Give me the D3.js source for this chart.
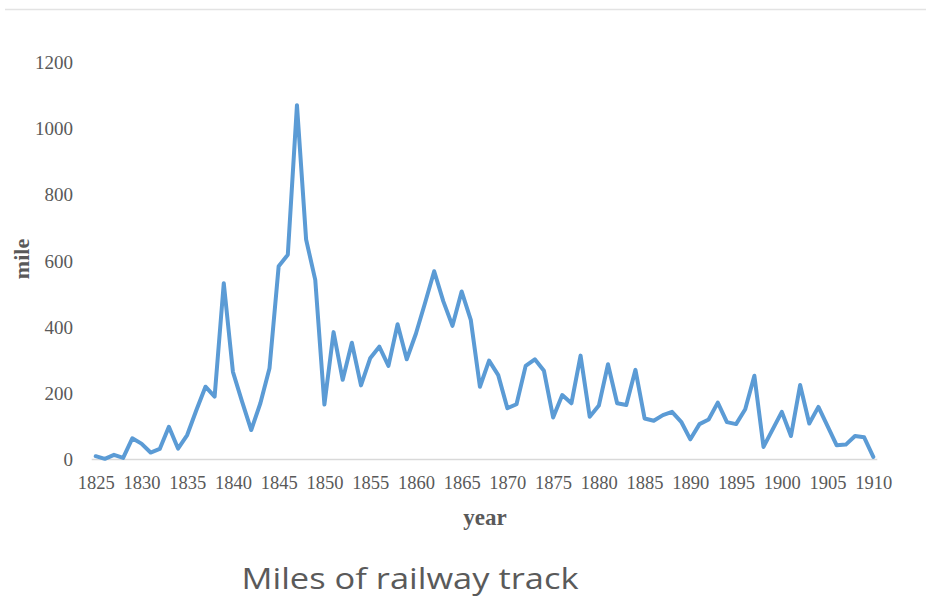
<!DOCTYPE html>
<html>
<head>
<meta charset="utf-8">
<script src="https://cdn.jsdelivr.net/npm/d3@7"></script>
<style>
  html, body { margin: 0; padding: 0; background: #ffffff; }
  svg { display: block; }
</style>
</head>
<body>
<svg id="chart" width="926" height="601"></svg>
<script>
const years = d3.range(1825, 1911);
const miles = [
  10, 2, 14, 5, 64, 48, 21, 32, 99, 33,
  74, 149, 220, 190, 533, 265, 175, 89, 170, 276,
  584, 619, 1071, 665, 543, 166, 385, 241, 353, 224,
  306, 341, 283, 409, 303, 380, 473, 569, 478, 404,
  508, 422, 220, 299, 255, 155, 167, 283, 303, 268,
  127, 195, 170, 314, 129, 163, 288, 170, 165, 271,
  124, 117, 134, 144, 114, 61, 107, 121, 172, 113,
  107, 152, 253, 38, 91, 144, 71, 225, 109, 159,
  101, 43, 45, 71, 67, 8
];
const xTicks = d3.range(1825, 1911, 5);
const yTicks = [0, 200, 400, 600, 800, 1000, 1200];
const xTitle = "year";
const yTitle = "mile";
const chartTitle = "Miles of railway track";

const svg = d3.select("#chart");
const textColor = "#595959";

// top border line
svg.append("line")
  .attr("x1", 5).attr("x2", 926)
  .attr("y1", 9.5).attr("y2", 9.5)
  .attr("stroke", "#e3e3e3").attr("stroke-width", 1.5);

const x = d3.scaleLinear().domain([1825, 1910]).range([95.7, 873.3]);
const y = d3.scaleLinear().domain([0, 1200]).range([459.5, 62.5]);

// baseline
svg.append("line")
  .attr("x1", x(1825) - 4).attr("x2", x(1910) + 4)
  .attr("y1", y(0)).attr("y2", y(0))
  .attr("stroke", "#d9d9d9").attr("stroke-width", 1.5);

// x axis
const xAxis = d3.axisBottom(x).tickValues(xTicks).tickFormat(d3.format("d")).tickSize(0);
const gx = svg.append("g").attr("transform", `translate(0,${y(0)})`).call(xAxis);
gx.select(".domain").remove();
gx.selectAll("text")
  .attr("y", 29.5).attr("dy", 0)
  .attr("fill", textColor)
  .style("font-family", "'Liberation Serif', 'Times New Roman', serif")
  .style("font-size", "18.5px");

// y axis
const yAxis = d3.axisLeft(y).tickValues(yTicks).tickFormat(d3.format("d")).tickSize(0);
const gy = svg.append("g").attr("transform", "translate(73,0)").call(yAxis);
gy.select(".domain").remove();
gy.selectAll("text")
  .attr("x", 0).attr("dy", "0.32em")
  .attr("fill", textColor)
  .style("font-family", "'Liberation Serif', 'Times New Roman', serif")
  .style("font-size", "19px");

// line
const line = d3.line().x((d, i) => x(years[i])).y(d => y(d));
svg.append("path")
  .datum(miles)
  .attr("d", line)
  .attr("fill", "none")
  .attr("stroke", "#5b9bd5")
  .attr("stroke-width", 4)
  .attr("stroke-linejoin", "round")
  .attr("stroke-linecap", "round");

// axis titles
svg.append("text")
  .attr("x", 485).attr("y", 525)
  .attr("text-anchor", "middle")
  .attr("fill", textColor)
  .style("font-family", "'Liberation Serif', 'Times New Roman', serif")
  .style("font-weight", "bold")
  .style("font-size", "23px")
  .text(xTitle);

svg.append("text")
  .attr("transform", "translate(28.5,259) rotate(-90)")
  .attr("text-anchor", "middle")
  .attr("fill", textColor)
  .style("font-family", "'Liberation Serif', 'Times New Roman', serif")
  .style("font-weight", "bold")
  .style("font-size", "22px")
  .text(yTitle);

// chart title
svg.append("text")
  .attr("x", 410).attr("y", 588.5)
  .attr("text-anchor", "middle")
  .attr("fill", "#5a5a5a")
  .attr("textLength", 337)
  .attr("lengthAdjust", "spacingAndGlyphs")
  .style("font-family", "'Open Sans', 'Liberation Sans', sans-serif")
  .style("font-size", "30px")
  .text(chartTitle);
</script>
</body>
</html>
